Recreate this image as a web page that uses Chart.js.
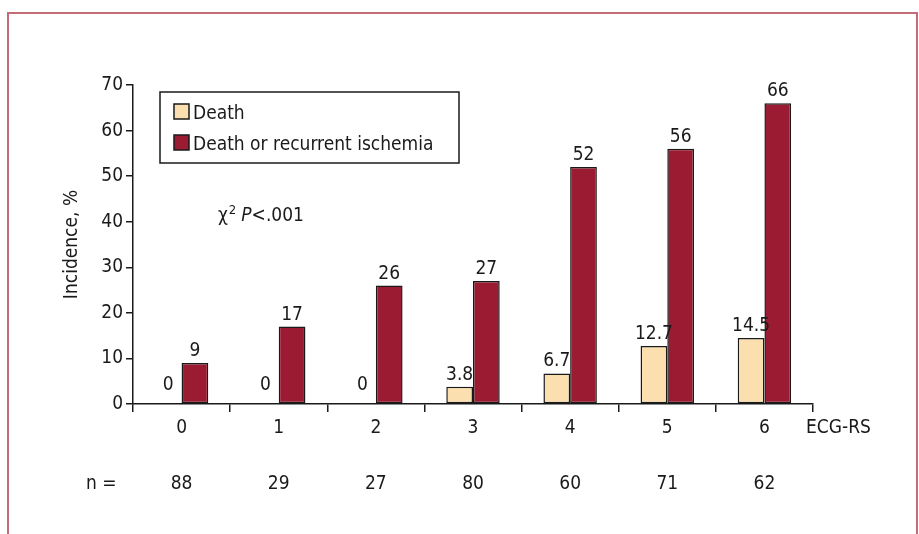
<!DOCTYPE html>
<html>
<head>
<meta charset="utf-8">
<script src="https://cdn.jsdelivr.net/npm/chart.js@4"></script>
<style>
  html, body { margin:0; padding:0; background:#fff; }
  #wrap { position:relative; width:919px; height:534px; overflow:hidden; }
  #frame { position:absolute; left:7px; top:12px; width:907px; height:540px;
           border:2px solid #c46b78; border-bottom:none; }
  canvas { position:absolute; left:0; top:0; }
</style>
</head>
<body>
<div id="wrap">
  <div id="frame"></div>
  <canvas id="chart" width="919" height="534"></canvas>
</div>
<script>
// data
const categories = ['0', '1', '2', '3', '4', '5', '6'];
const death = [0, 0, 0, 3.8, 6.7, 12.7, 14.5];
const deathOrIschemia = [9, 17, 26, 27, 52, 56, 66];
const nValues = [88, 29, 27, 80, 60, 71, 62];
const seriesNames = ['Death', 'Death or recurrent ischemia'];
const seriesColors = ['#fbdfae', '#9b1c32'];

const FONT = '"DejaVu Sans Condensed", "Liberation Sans", sans-serif';
const FS = 19;
const INK = '#1a1a1a';

// labels above bars, n row, axis end label, legend box, chi-square note
const annotations = {
  id: 'annotations',
  afterDatasetsDraw(chart) {
    const { ctx, scales: { x } } = chart;
    ctx.save();
    ctx.fillStyle = INK;
    ctx.font = FS + 'px ' + FONT;
    ctx.textAlign = 'center';
    ctx.textBaseline = 'alphabetic';
    chart.data.datasets.forEach((ds, di) => {
      chart.getDatasetMeta(di).data.forEach((bar, i) => {
        const v = ds.data[i];
        const gap = v === 0 ? 14 : 7;
        ctx.fillText(String(v), bar.x, bar.y - gap);
      });
    });

    // n row
    const nY = 489;
    nValues.forEach((n, i) => ctx.fillText(String(n), x.getPixelForValue(i), nY));
    ctx.textAlign = 'left';
    ctx.fillText('n =', 86, nY);

    // axis end label
    ctx.fillText('ECG-RS', x.right - 7, 433);

    // legend box
    const lx = 160, ly = 92, lw = 299, lh = 71;
    ctx.fillStyle = '#fff';
    ctx.fillRect(lx, ly, lw, lh);
    ctx.strokeStyle = INK;
    ctx.lineWidth = 1.5;
    ctx.strokeRect(lx, ly, lw, lh);
    seriesNames.forEach((name, i) => {
      const top = 104 + i * 31;
      ctx.fillStyle = seriesColors[i];
      ctx.fillRect(174, top, 15, 15);
      ctx.strokeRect(174, top, 15, 15);
      ctx.fillStyle = INK;
      ctx.fillText(name, 193, top + 15);
    });

    // chi-square note
    let cx = 218;
    const cy = 221;
    ctx.fillText('\u03c7', cx, cy);
    cx += ctx.measureText('\u03c7').width;
    ctx.font = '13px ' + FONT;
    ctx.fillText('2', cx + 1, cy - 7);
    cx += ctx.measureText('2').width + 6;
    ctx.font = 'italic ' + FS + 'px ' + FONT;
    ctx.fillText('P', cx, cy);
    cx += ctx.measureText('P').width;
    ctx.font = FS + 'px ' + FONT;
    ctx.fillText('<.001', cx, cy);
    ctx.restore();
  }
};

new Chart(document.getElementById('chart'), {
  type: 'bar',
  data: {
    labels: categories,
    datasets: [
      { label: seriesNames[0], data: death, backgroundColor: seriesColors[0] },
      { label: seriesNames[1], data: deathOrIschemia, backgroundColor: seriesColors[1] }
    ].map(d => Object.assign(d, {
      borderColor: INK,
      borderWidth: c => (c.raw === 0 ? 0 : 1.5),
      borderSkipped: false,
      categoryPercentage: 0.55,
      barPercentage: 1
    }))
  },
  options: {
    responsive: false,
    animation: false,
    layout: { padding: { top: 85, right: 106, left: 61, bottom: 0 } },
    plugins: { legend: { display: false }, tooltip: { enabled: false } },
    scales: {
      x: {
        offset: true,
        afterFit: s => { s.height = 130; },
        grid: { offset: true, drawOnChartArea: false, drawTicks: true, tickLength: 8, color: INK, lineWidth: 1.5 },
        border: { color: INK, width: 1.5 },
        ticks: { color: INK, font: { family: FONT, size: FS }, padding: 5 }
      },
      y: {
        min: 0, max: 70,
        afterFit: s => { s.width = 72; },
        grid: { drawOnChartArea: false, drawTicks: true, tickLength: 7, color: INK, lineWidth: 1.5 },
        border: { color: INK, width: 1.5 },
        ticks: { stepSize: 10, color: INK, font: { family: FONT, size: FS }, padding: 3 },
        title: { display: true, text: 'Incidence, %', color: INK, font: { family: FONT, size: FS }, padding: { top: 0, bottom: 4 } }
      }
    }
  },
  plugins: [annotations]
});
</script>
</body>
</html>
